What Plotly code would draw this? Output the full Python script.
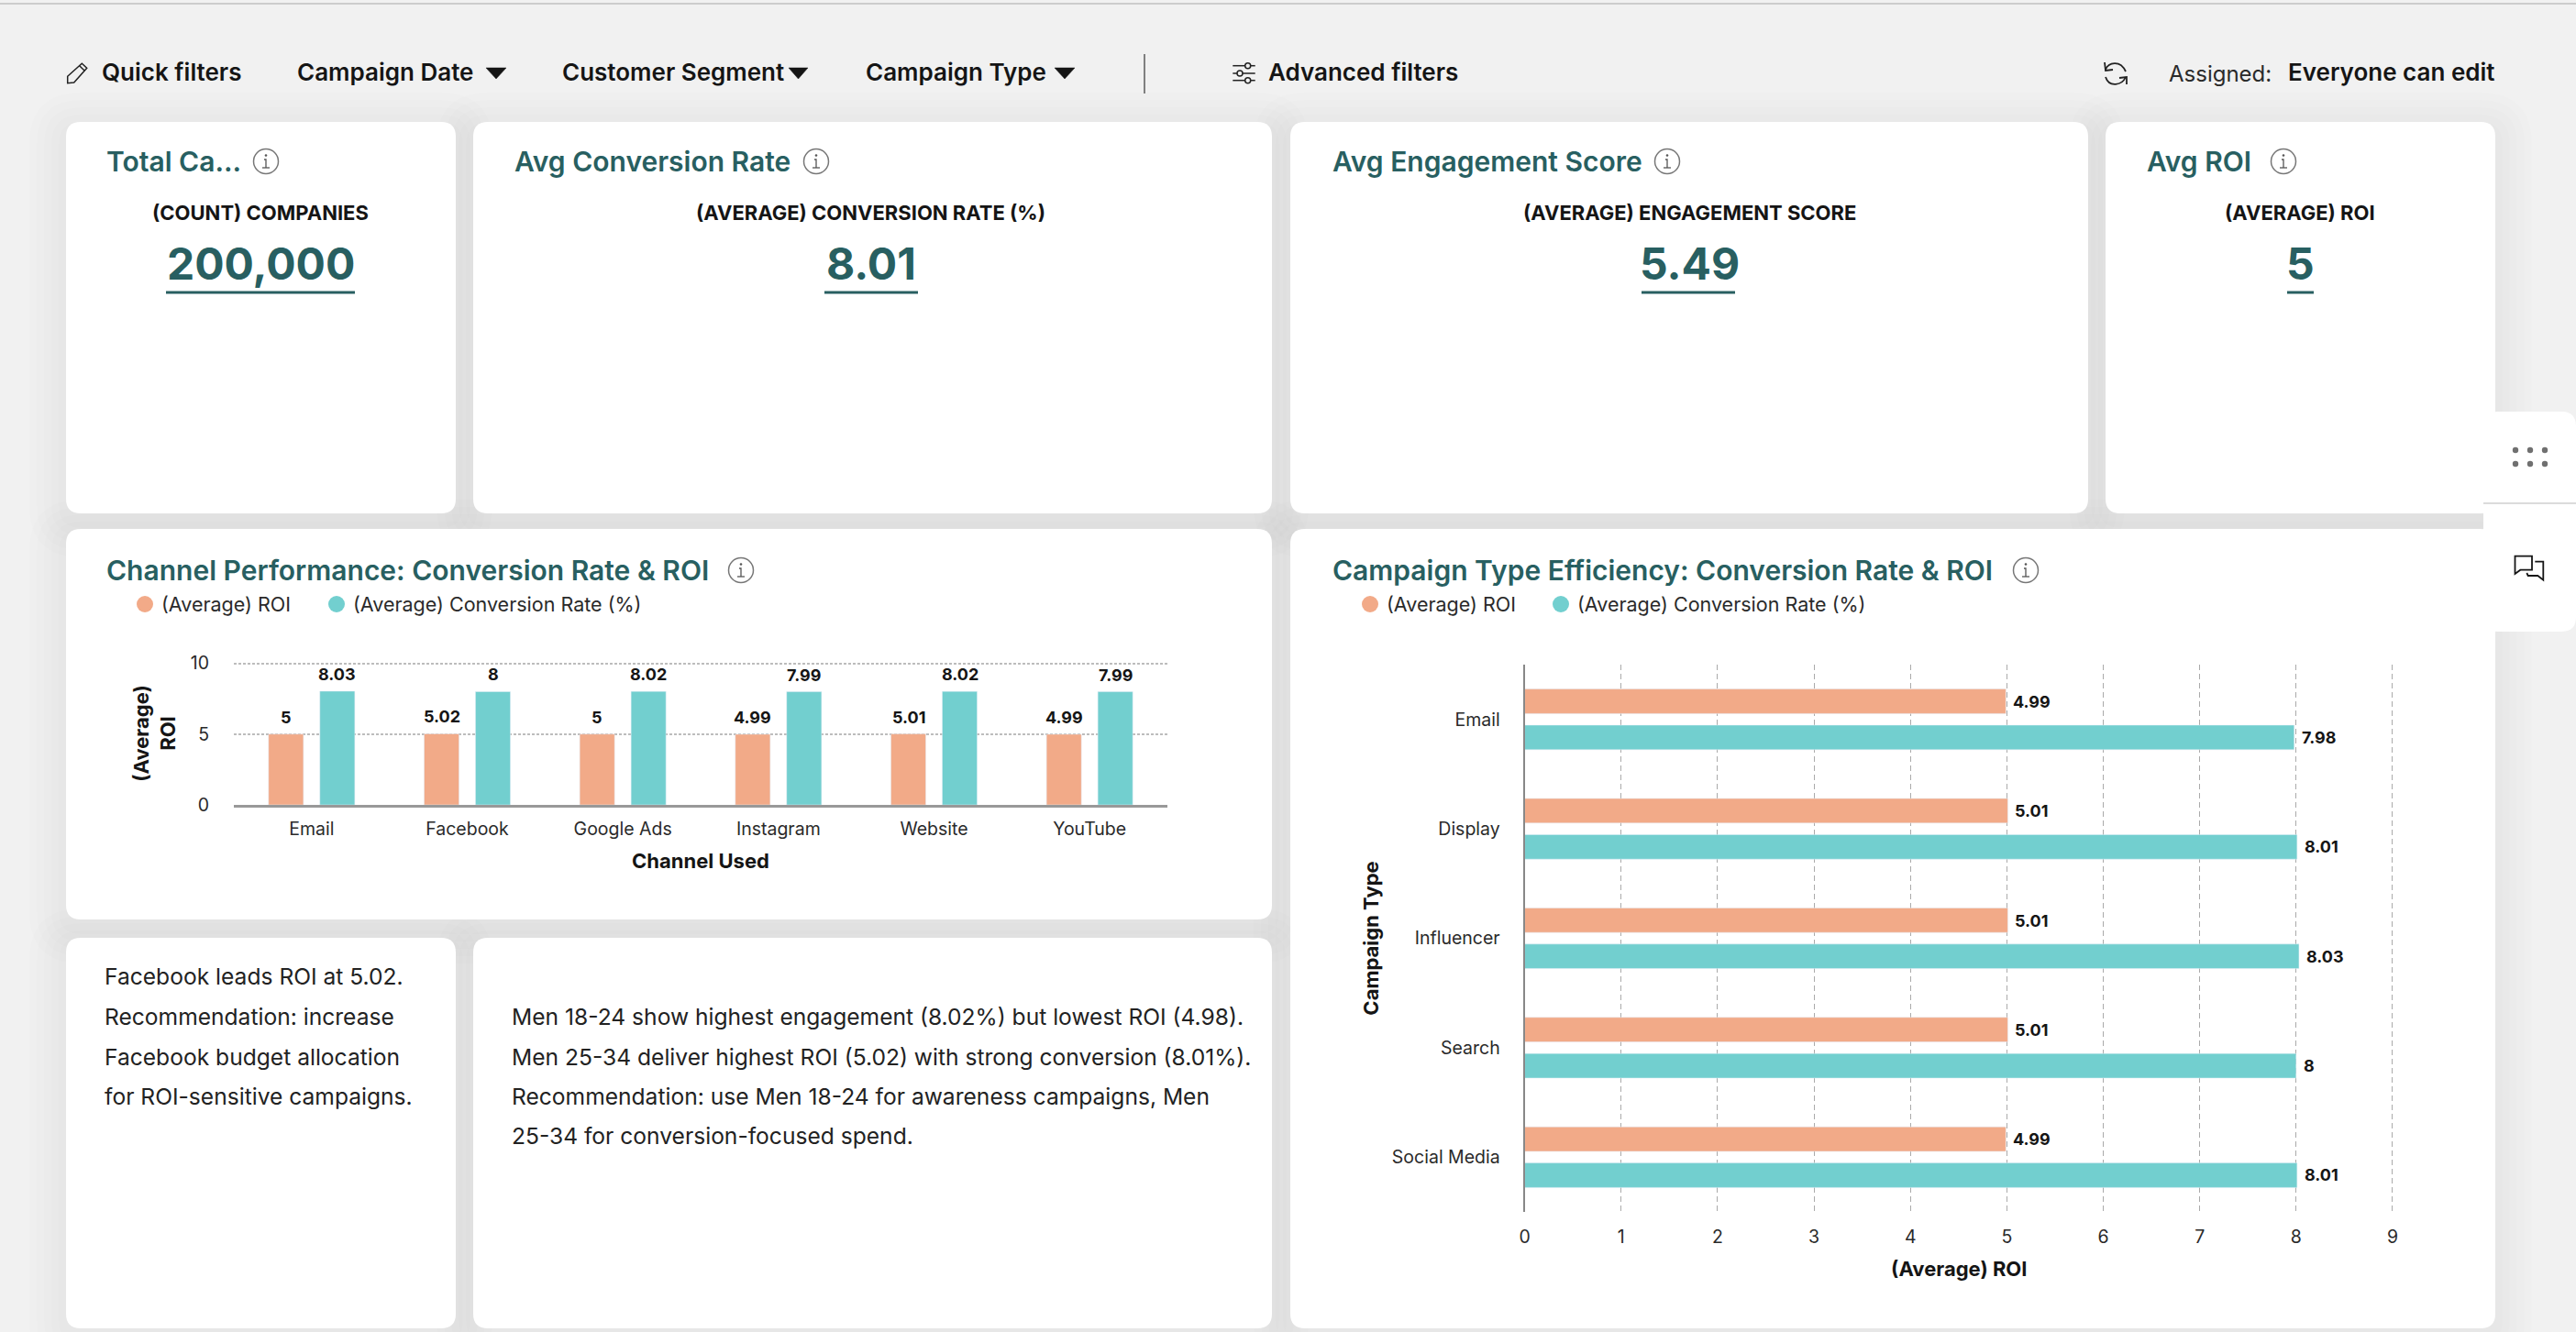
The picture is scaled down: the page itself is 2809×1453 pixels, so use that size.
import plotly.graph_objects as go

W = 2809
H = 1453
FONT = "Inter"
PEACH = "#f2aa88"
TEAL = "#72cfcf"
DARK_TEAL = "#285f61"
INK = "#151515"

# chart data
channels = ["Email", "Facebook", "Google Ads", "Instagram", "Website", "YouTube"]
channel_roi = [5, 5.02, 5, 4.99, 5.01, 4.99]
channel_conv = [8.03, 8, 8.02, 7.99, 8.02, 7.99]

campaign_types = ["Email", "Display", "Influencer", "Search", "Social Media"]
type_roi = [4.99, 5.01, 5.01, 5.01, 4.99]
type_conv = [7.98, 8.01, 8.03, 8, 8.01]

roi_name = "(Average) ROI"
conv_name = "(Average) Conversion Rate (%)"

# kpi cards
kpi_titles = ["Total Ca...", "Avg Conversion Rate", "Avg Engagement Score", "Avg ROI"]
kpi_labels = ["(COUNT) COMPANIES", "(AVERAGE) CONVERSION RATE (%)",
              "(AVERAGE) ENGAGEMENT SCORE", "(AVERAGE) ROI"]
kpi_values = ["200,000", "8.01", "5.49", "5"]

note_left = ["Facebook leads ROI at 5.02.", "Recommendation: increase",
             "Facebook budget allocation", "for ROI-sensitive campaigns."]
note_right = ["Men 18-24 show highest engagement (8.02%) but lowest ROI (4.98).",
              "Men 25-34 deliver highest ROI (5.02) with strong conversion (8.01%).",
              "Recommendation: use Men 18-24 for awareness campaigns, Men",
              "25-34 for conversion-focused spend."]

shapes = []
annotations = []


def px(x):
    return x / W


def py(y):
    return 1 - y / H


def pt(x, y):
    return f"{px(x):.6f},{py(y):.6f}"


def add_path(path, fill=None, color=INK, width=1.5, opacity=1):
    shapes.append(dict(type="path", xref="paper", yref="paper", path=path, layer="below",
                       fillcolor=fill or "rgba(0,0,0,0)", opacity=opacity,
                       line=dict(color=color, width=width)))


def poly(points, close=False, fill=None, color=INK, width=1.5):
    path = "M " + " L ".join(pt(x, y) for x, y in points)
    if close:
        path += " Z"
    add_path(path, fill, color, width)


def round_rect(x0, y0, x1, y1, r):
    return (f"M {pt(x0 + r, y0)} L {pt(x1 - r, y0)} Q {pt(x1, y0)} {pt(x1, y0 + r)} "
            f"L {pt(x1, y1 - r)} Q {pt(x1, y1)} {pt(x1 - r, y1)} "
            f"L {pt(x0 + r, y1)} Q {pt(x0, y1)} {pt(x0, y1 - r)} "
            f"L {pt(x0, y0 + r)} Q {pt(x0, y0)} {pt(x0 + r, y0)} Z")


def circle(cx, cy, r, fill=None, color=None, width=0):
    shapes.append(dict(type="circle", xref="paper", yref="paper", layer="below",
                       x0=px(cx - r), x1=px(cx + r), y0=py(cy + r), y1=py(cy - r),
                       fillcolor=fill or "rgba(0,0,0,0)",
                       line=dict(color=color or "rgba(0,0,0,0)", width=width)))


def text(x, y, s, size, color=INK, weight=400, anchor="left"):
    annotations.append(dict(xref="paper", yref="paper", x=px(x), y=py(y), text=s,
                            showarrow=False, xanchor=anchor, yanchor="middle",
                            font=dict(family=FONT, size=size, color=color, weight=weight)))


def shadow(x0, y0, x1, y1):
    for grow in [40, 32, 24, 16, 8]:
        add_path(round_rect(x0 - grow, y0 - grow + 8, x1 + grow, y1 + grow + 8, 16 + grow),
                 fill="#000000", color="rgba(0,0,0,0)", width=0, opacity=0.008)


def info(cx, cy):
    circle(cx, cy, 13.5, color="#777777", width=1.5)
    circle(cx, cy - 6.5, 1.3, fill="#555555")
    poly([(cx - 2, cy - 2), (cx, cy - 2), (cx, cy + 7)], color="#555555", width=1.3)
    poly([(cx - 4, cy + 7), (cx + 4, cy + 7)], color="#555555", width=1.3)


def triangle(x0, x1, y):
    poly([(x0, y - 6), (x1, y - 6), ((x0 + x1) / 2, y + 6)], close=True, fill=INK, color=INK, width=0.5)


def legend(dot1, text1, dot2, text2, y):
    circle(dot1, y, 9, fill=PEACH)
    text(text1, y, roi_name, 21.5, color="#2a2a2a")
    circle(dot2, y, 9, fill=TEAL)
    text(text2, y, conv_name, 21.5, color="#2a2a2a")


# page
card_boxes = [(72, 133, 497, 560), (516, 133, 1387, 560), (1407, 133, 2277, 560), (2296, 133, 2721, 560),
              (72, 577, 1387, 1003), (1407, 577, 2721, 1449), (72, 1023, 497, 1449), (516, 1023, 1387, 1449)]
for box in card_boxes:
    shadow(*box)
poly([(0, 4), (W, 4)], color="#cccccc", width=2)
for box in card_boxes:
    add_path(round_rect(*box, 16), fill="#ffffff", color="rgba(0,0,0,0)", width=0)

# side panel
add_path(round_rect(2708, 449, 2809, 689, 16), fill="#ffffff", color="rgba(0,0,0,0)", width=0)
poly([(2708, 549), (2809, 549)], color="#cfcfcf", width=1.5)
for dot_y in [491, 506]:
    for dot_x in [2743, 2759, 2775]:
        circle(dot_x, dot_y, 3.2, fill="#707070")
poly([(2742.5, 606.7), (2761, 606.7), (2761, 621.7), (2748.3, 621.7), (2742.5, 626)], close=True, width=1.8)
poly([(2764.3, 612.7), (2773.3, 612.7), (2773.3, 632.7), (2767.3, 628), (2756.7, 628), (2755.3, 625)], width=1.8)

# filter bar
poly([(73.7, 83.3), (89.3, 69.3), (94.7, 74.3), (80.7, 90), (73.7, 90.7)], close=True, color="#222222")
poly([(86.7, 71.7), (92.3, 77.3)], color="#222222")
text(109, 79, "Quick filters", 26, weight=600)
text(322, 79, "Campaign Date", 26, weight=600)
triangle(530, 552, 80)
text(611, 79, "Customer Segment", 26, weight=600)
triangle(860, 881, 80)
text(942, 79, "Campaign Type", 26, weight=600)
triangle(1150, 1172, 80)
poly([(1248, 59), (1248, 102)], color="#808080", width=2)
for line_y, knob_x in [(71.7, 1360.7), (80, 1352), (87.7, 1360.7)]:
    poly([(1344.3, line_y), (1368.7, line_y)], color="#222222", width=1.5)
    circle(knob_x, line_y, 3, fill="#f0f0f0", color="#222222", width=1.5)
text(1381, 79, "Advanced filters", 26, weight=600)
add_path(f"M {pt(2296, 76)} C {pt(2299, 68)} {pt(2312, 65)} {pt(2318, 78)}", color="#222222", width=1.8)
poly([(2295, 68), (2296, 77), (2304, 76)], color="#222222", width=1.8)
add_path(f"M {pt(2318, 84)} C {pt(2314, 93)} {pt(2300, 96)} {pt(2296, 84)}", color="#222222", width=1.8)
poly([(2319, 92), (2319, 84), (2311, 85)], color="#222222", width=1.8)
text(2363, 80, "Assigned:", 24, color="#2a2a2a")
text(2722, 79, "Everyone can edit", 26, weight=600, anchor="right")

# kpi cards
title_left = [114, 559, 1451, 2339]
info_x = [290, 890, 1818, 2490]
kpi_center = [284, 950, 1842, 2508]
underline = [(181, 387), (899, 1001), (1790, 1892), (2494, 2523)]
for i in range(4):
    text(title_left[i], 176, kpi_titles[i], 30, color=DARK_TEAL, weight=600)
    info(info_x[i], 176)
    text(kpi_center[i], 232, kpi_labels[i], 22, weight=700, anchor="center")
    text(kpi_center[i], 287, kpi_values[i], 48, color=DARK_TEAL, weight=700, anchor="center")
    poly([(underline[i][0], 319), (underline[i][1], 319)], color=DARK_TEAL, width=3)

# chart cards
text(114, 622, "Channel Performance: Conversion Rate &amp; ROI", 30, color=DARK_TEAL, weight=600)
info(808, 622)
legend(158, 174, 367, 383, 659)
text(1451, 622, "Campaign Type Efficiency: Conversion Rate &amp; ROI", 30, color=DARK_TEAL, weight=600)
info(2209, 622)
legend(1494, 1510, 1702, 1718, 659)

# notes
for line, y in zip(note_left, [1065, 1109, 1153, 1196]):
    text(112, y, line, 24.6, color="#222222")
for line, y in zip(note_right, [1109, 1153, 1196, 1239]):
    text(556, y, line, 24.6, color="#222222")

fig = go.Figure()

fig.add_trace(go.Bar(x=channels, y=channel_roi, name=roi_name, marker_color=PEACH, xaxis="x", yaxis="y"))
fig.add_trace(go.Bar(x=channels, y=channel_conv, name=conv_name, marker_color=TEAL, xaxis="x", yaxis="y"))
fig.add_trace(go.Bar(y=campaign_types, x=type_roi, name=roi_name, orientation="h", marker_color=PEACH,
                     xaxis="x2", yaxis="y2"))
fig.add_trace(go.Bar(y=campaign_types, x=type_conv, name=conv_name, orientation="h", marker_color=TEAL,
                     xaxis="x2", yaxis="y2"))

# value labels
label_font = dict(family=FONT, size=18, color=INK, weight=700)
for cat, roi, conv in zip(channels, channel_roi, channel_conv):
    for val, shift in [(roi, -28), (conv, 28)]:
        annotations.append(dict(xref="x", yref="y", x=cat, y=val, text=f"{val:g}", showarrow=False,
                                xshift=shift, yshift=6, yanchor="bottom", font=label_font))
for cat, roi, conv in zip(campaign_types, type_roi, type_conv):
    for val, shift in [(roi, 19.5), (conv, -19.5)]:
        annotations.append(dict(xref="x2", yref="y2", x=val, y=cat, text=f"{val:g}", showarrow=False,
                                xanchor="left", xshift=6, yshift=shift, font=label_font))

tick_font = dict(family=FONT, size=19.5, color="#2a2a2a")
title_font = dict(family=FONT, size=22, color=INK, weight=700)

fig.update_layout(
    width=W,
    height=H,
    autosize=False,
    margin=dict(l=0, r=0, t=0, b=0, autoexpand=False),
    paper_bgcolor="#f1f1f1",
    plot_bgcolor="rgba(0,0,0,0)",
    showlegend=False,
    barmode="group",
    bargap=0.34,
    bargroupgap=0.32,
    shapes=shapes,
    annotations=annotations,
    xaxis=dict(domain=[px(255), px(1273)], anchor="y", type="category", categoryarray=channels,
               showline=True, linecolor="#999999", linewidth=3, ticks="", tickfont=tick_font, ticklabelstandoff=7,
               title=dict(text="Channel Used", font=title_font, standoff=17)),
    yaxis=dict(domain=[py(878), py(722)], anchor="x", range=[0, 10.1], tickvals=[0, 5, 10], tickfont=tick_font,
               showgrid=True, gridcolor="#bdbdbd", griddash="3px,2px", gridwidth=2, zeroline=False, ticks="",
               ticklabelstandoff=26,
               title=dict(text="(Average)<br>ROI", font=title_font, standoff=10)),
    xaxis2=dict(domain=[px(1662.6), px(2610)], anchor="y2", range=[0, 9.01], dtick=1, tickfont=tick_font,
                showgrid=True, gridcolor="#aaaaaa", griddash="6px,4px", gridwidth=1, zeroline=False, ticks="",
                ticklabelstandoff=13,
                title=dict(text=roi_name, font=title_font, standoff=17)),
    yaxis2=dict(domain=[py(1322), py(725)], anchor="x2", type="category", categoryarray=campaign_types,
                autorange="reversed", showline=True, linecolor="#888888", linewidth=2, ticks="",
                tickfont=tick_font, ticklabelstandoff=21,
                title=dict(text="Campaign Type", font=title_font, standoff=8)),
)

fig.write_html("out.html", config={"displayModeBar": False},
               post_script="document.body.style.margin='0';document.body.style.overflow='hidden';")
